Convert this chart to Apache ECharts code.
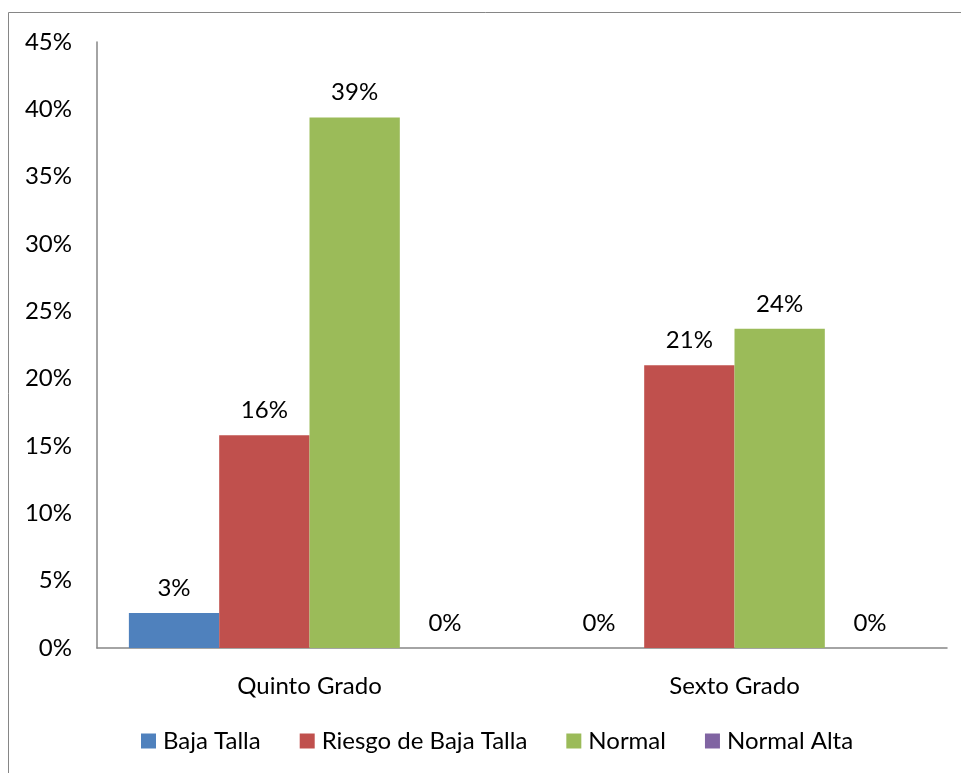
<!DOCTYPE html>
<html>
<head>
<meta charset="utf-8">
<script src="https://cdn.jsdelivr.net/npm/echarts@6/dist/echarts.min.js"></script>
<style>
  html, body { margin: 0; padding: 0; background: #ffffff; }
  #chart { width: 961px; height: 773px; }
</style>
</head>
<body>
<div id="chart"></div>
<script>
  // categorías y series (valores en %)
  var grados = ['Quinto Grado', 'Sexto Grado'];
  var bajaTalla = [2.6, 0];
  var riesgoBajaTalla = [15.8, 21.0];
  var normal = [39.4, 23.7];
  var normalAlta = [0, 0];
  var yTicks = [0, 5, 10, 15, 20, 25, 30, 35, 40, 45];

  var fuente = 'Lato';
  var tam = 24;
  var colores = ['#4F81BD', '#C0504D', '#9BBB59', '#8064A2'];

  function serie(nombre, datos) {
    return {
      name: nombre,
      type: 'bar',
      data: datos,
      barGap: 0,
      barCategoryGap: '15%',
      label: {
        show: true,
        position: 'top',
        distance: 13,
        color: '#000',
        fontFamily: fuente,
        fontSize: tam,
        formatter: function (p) { return Math.round(p.value) + '%'; }
      }
    };
  }

  var chart = echarts.init(document.getElementById('chart'));
  chart.setOption({
    animation: false,
    color: colores,
    textStyle: { fontFamily: fuente },
    graphic: [{
      type: 'rect',
      shape: { x: 8.5, y: 12.5, width: 1000, height: 1000 },
      style: { fill: 'none', stroke: '#868686', lineWidth: 1 },
      silent: true
    }],
    grid: { left: 97, right: 14, top: 42, bottom: 125 },
    legend: {
      bottom: 15,
      left: 136,
      itemWidth: 15,
      itemHeight: 15,
      itemGap: 39,
      icon: 'rect',
      textStyle: { fontFamily: fuente, fontSize: tam, color: '#000', padding: [0, 0, 0, 2] },
      data: ['Baja Talla', 'Riesgo de Baja Talla', 'Normal', 'Normal Alta']
    },
    xAxis: {
      type: 'category',
      data: grados,
      axisLine: { lineStyle: { color: '#868686', width: 1.5 } },
      axisTick: { show: false },
      axisLabel: { color: '#000', fontFamily: fuente, fontSize: tam, margin: 26 }
    },
    yAxis: {
      type: 'value',
      min: yTicks[0],
      max: yTicks[yTicks.length - 1],
      interval: 5,
      splitLine: { show: false },
      axisLine: { show: true, lineStyle: { color: '#868686', width: 1.5 } },
      axisTick: { show: false },
      axisLabel: { color: '#000', fontFamily: fuente, fontSize: tam, margin: 25, formatter: '{value}%' }
    },
    series: [
      serie('Baja Talla', bajaTalla),
      serie('Riesgo de Baja Talla', riesgoBajaTalla),
      serie('Normal', normal),
      serie('Normal Alta', normalAlta)
    ]
  });
</script>
</body>
</html>
